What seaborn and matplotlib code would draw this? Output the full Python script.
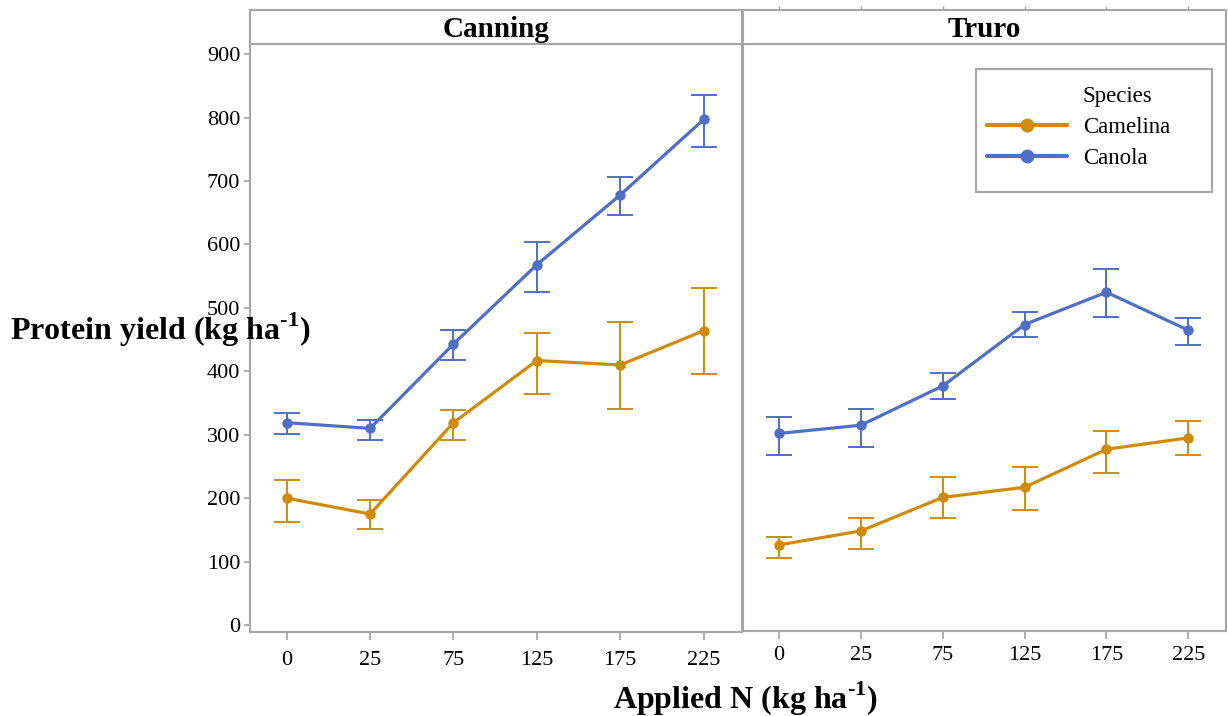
import numpy as np
import pandas as pd
import matplotlib
matplotlib.use("Agg")
import matplotlib.pyplot as plt
from matplotlib.lines import Line2D
from matplotlib.patches import Rectangle
import seaborn as sns

# ---- data -------------------------------------------------------------
nitrogen_labels = ["0", "25", "75", "125", "175", "225"]
sites = ["Canning", "Truro"]
species = ["Camelina", "Canola"]

camelina_canning = [200, 175, 319, 417, 410, 464]
camelina_canning_lo = [163, 151, 292, 364, 340, 396]
camelina_canning_hi = [229, 197, 339, 461, 477, 532]

canola_canning = [319, 310, 443, 568, 678, 797]
canola_canning_lo = [301, 292, 418, 525, 647, 754]
canola_canning_hi = [334, 323, 465, 604, 707, 836]

camelina_truro = [125, 147, 200, 216, 276, 294]
camelina_truro_lo = [104, 119, 167, 180, 239, 267]
camelina_truro_hi = [138, 167, 232, 248, 305, 320]

canola_truro = [301, 314, 376, 473, 524, 464]
canola_truro_lo = [267, 280, 356, 453, 485, 441]
canola_truro_hi = [327, 339, 396, 493, 560, 484]

series = {
    ("Canning", "Camelina"): (camelina_canning, camelina_canning_lo, camelina_canning_hi),
    ("Canning", "Canola"): (canola_canning, canola_canning_lo, canola_canning_hi),
    ("Truro", "Camelina"): (camelina_truro, camelina_truro_lo, camelina_truro_hi),
    ("Truro", "Canola"): (canola_truro, canola_truro_lo, canola_truro_hi),
}

rows = []
for (site, sp), (mean, lo, hi) in series.items():
    for i, lab in enumerate(nitrogen_labels):
        rows.append(dict(Site=site, Species=sp, pos=i, N=lab,
                         yield_=mean[i], lo=lo[i], hi=hi[i]))
df = pd.DataFrame(rows)

# ---- style ------------------------------------------------------------
sns.set_theme(style="white")
plt.rcParams["font.family"] = ["Liberation Serif", "DejaVu Serif"]
plt.rcParams["mathtext.fontset"] = "custom"
plt.rcParams["mathtext.rm"] = "Liberation Serif"
plt.rcParams["mathtext.bf"] = "Liberation Serif:bold"
plt.rcParams["text.color"] = "black"
plt.rcParams["xtick.labelcolor"] = "black"
plt.rcParams["ytick.labelcolor"] = "black"

palette = {"Camelina": "#D08A0A", "Canola": "#4E6FC6"}
GREY = "#A6A6A6"
W, H = 1228, 716

fig = plt.figure(figsize=(W / 100, H / 100), dpi=100)


def fbox(x0, y0, x1, y1):
    """pixel box (top-left origin) -> figure fraction rect"""
    return [x0 / W, 1 - y1 / H, (x1 - x0) / W, (y1 - y0) / H]


panel_px = {"Canning": (250, 44, 742, 632), "Truro": (743, 44, 1226, 631)}

for k, site in enumerate(sites):
    x0, y0, x1, y1 = panel_px[site]
    ax = fig.add_axes(fbox(x0, y0, x1, y1))
    d = df[df["Site"] == site]

    for sp in species:
        s = d[d["Species"] == sp]
        ax.errorbar(s["pos"], s["yield_"],
                    yerr=[s["yield_"] - s["lo"], s["hi"] - s["yield_"]],
                    fmt="none", ecolor=palette[sp], elinewidth=1.4,
                    capsize=9.7, capthick=1.4, zorder=2)

    sns.lineplot(data=d, x="pos", y="yield_", hue="Species",
                 hue_order=species, palette=palette, marker="o",
                 markersize=7.5, markeredgewidth=0, linewidth=2.3,
                 errorbar=None, legend=False, ax=ax, zorder=3)

    ax.set_xlim(-0.44, 5.46)
    ax.set_ylim(-11, 916)
    ax.set_xticks(range(len(nitrogen_labels)), nitrogen_labels)
    ax.set_xlabel("")
    ax.set_ylabel("")
    for spine in ax.spines.values():
        spine.set_color(GREY)
        spine.set_linewidth(1.5)
    ax.tick_params(axis="x", direction="out", length=6, width=1.3,
                   color=GREY, labelsize=16, pad=8 if k == 0 else 5,
                   bottom=True)
    if k == 0:
        ax.set_yticks(range(0, 901, 100))
        ax.tick_params(axis="y", direction="out", length=4, width=1.3,
                       color=GREY, labelsize=16, pad=3, left=True)
    else:
        ax.tick_params(axis="y", left=False, labelleft=False)

    # facet header strip
    hx = fig.add_axes(fbox(x0, 10, x1, 44))
    hx.set_xlim(ax.get_xlim())
    hx.set_yticks([])
    hx.set_xticks([])
    for spine in hx.spines.values():
        spine.set_color(GREY)
        spine.set_linewidth(1.5)
    hx.text(0.5, 0.42, site, transform=hx.transAxes, ha="center",
            va="center", fontsize=21, fontweight="bold")
    if k == 1:
        hx.set_xticks(range(len(nitrogen_labels)))
        hx.tick_params(axis="x", top=True, bottom=False, labeltop=False,
                       labelbottom=False, direction="out", length=3,
                       color=GREY, width=1)

    if site == "Truro":
        handles = [Line2D([], [], linestyle="none")]
        labels = ["Species"]
        for sp in species:
            handles.append(Line2D([], [], color=palette[sp], linewidth=3,
                                  marker="o", markersize=10,
                                  markeredgewidth=0))
            labels.append(sp)
        fig.patches.append(Rectangle((976 / W, 1 - 192 / H), 236 / W, 123 / H,
                                     transform=fig.transFigure, fill=False,
                                     edgecolor=GREY, linewidth=1.5))
        fig.legend(handles, labels, loc="upper left",
                   bbox_to_anchor=(978 / W, 1 - 77 / H), frameon=False,
                   fontsize=16.5, handlelength=3.5, handletextpad=0.68,
                   labelspacing=0.42, borderpad=0.4, borderaxespad=0)

fig.text(10 / W, 1 - 330 / H, "Protein yield (kg ha$^{\\mathbf{\u20101}}$)",
         fontsize=23, fontweight="bold", ha="left", va="center")
fig.text(745 / W, 1 - 699 / H, "Applied N (kg ha$^{\\mathbf{\u20101}}$)",
         fontsize=23, fontweight="bold", ha="center", va="center")

fig.savefig("out.png", dpi=100)
